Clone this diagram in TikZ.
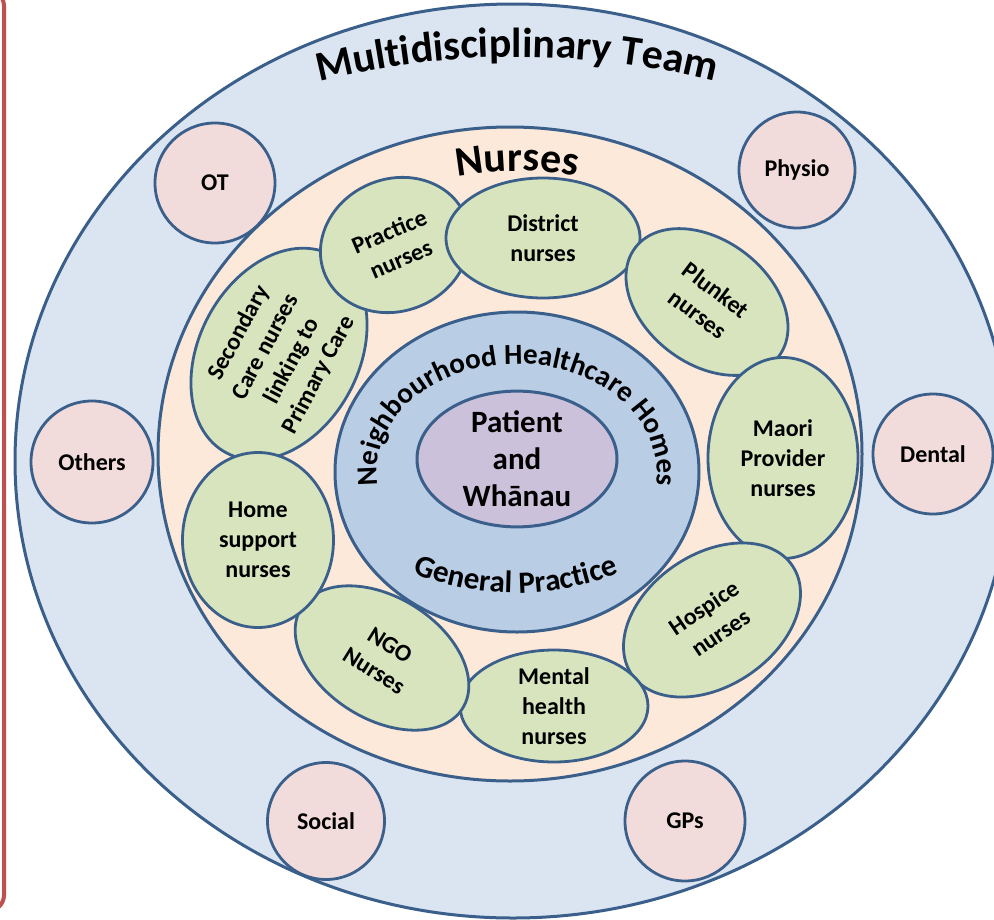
\documentclass[tikz,border=0pt]{standalone}
\usepackage{fontspec}
\setmainfont{Carlito}
\usetikzlibrary{shapes.geometric,decorations.text}
\definecolor{edge}{HTML}{3A5F8B}
\definecolor{mdtfill}{HTML}{DBE5F1}
\definecolor{nursefill}{HTML}{FDE9D9}
\definecolor{nhhfill}{HTML}{B9CDE5}
\definecolor{patfill}{HTML}{CCC1DA}
\definecolor{greenfill}{HTML}{D7E4BD}
\definecolor{pinkfill}{HTML}{F2DCDB}
\definecolor{framered}{HTML}{C0504D}
\begin{document}
\begin{tikzpicture}[x=1pt,y=1pt,
  ring/.style={ellipse, draw=edge, line width=3pt, inner sep=0pt},
  nurse/.style={ellipse, draw=edge, line width=2.8pt, fill=greenfill, inner sep=0pt, align=center, font=\fontsize{24}{30}\selectfont\bfseries},
  disc/.style={circle, draw=edge, line width=2.8pt, fill=pinkfill, inner sep=0pt, font=\fontsize{24}{30}\selectfont\bfseries}
]
\useasboundingbox (0,0) rectangle (994,-919);
\clip (0,0) rectangle (994,-919);
\fill[white] (0,0) rectangle (994,-919);
% left frame
\draw[framered, line width=4pt, rounded corners=16pt] (-40,10) rectangle (4,-911);
% outer team
\node[ring, fill=mdtfill, minimum width=996pt, minimum height=914pt] (mdt) at (513,-461) {};
% disciplines
\node[disc, minimum size=120pt] (ot) at (215,-183) {OT};
\node[disc, minimum size=116pt] (physio) at (797,-170) {Physio};
\node[disc, minimum size=122pt] (others) at (92,-462) {Others};
\node[disc, minimum size=120pt] (dental) at (933,-454) {Dental};
\node[disc, minimum size=117pt] (social) at (326,-821) {Social};
\node[disc, minimum size=120pt] (gps) at (685,-821) {GPs};
% nurses ring
\node[ring, fill=nursefill, minimum width=704pt, minimum height=654pt] (nursering) at (510,-454) {};
% nurse groups
\node[nurse, rotate=62, minimum width=224pt, minimum height=160pt] (secondary) at (279,-354) {Secondary\\Care nurses\\linking to\\Primary Care};
\node[nurse, rotate=23, minimum width=152pt, minimum height=132pt] (practice) at (395,-245) {Practice\\nurses};
\node[nurse, minimum width=194pt, minimum height=120pt] (district) at (543,-238) {District\\nurses};
\node[nurse, rotate=-37, minimum width=180pt, minimum height=124pt] (plunket) at (707,-302) {Plunket\\nurses};
\node[nurse, minimum width=150pt, minimum height=201pt] (maori) at (783,-458) {Maori\\Provider\\nurses};
\node[nurse, rotate=34, minimum width=194pt, minimum height=132pt] (hospice) at (712,-620) {Hospice\\nurses};
\node[nurse, minimum width=188pt, minimum height=112pt] (mental) at (554,-706) {Mental\\health\\nurses};
\node[nurse, rotate=-32, minimum width=190pt, minimum height=122pt] (ngo) at (382,-658) {NGO\\Nurses};
\node[nurse, minimum width=151pt, minimum height=175pt] (home) at (258,-540) {Home\\support\\nurses};
% neighbourhood healthcare homes
\node[ring, fill=nhhfill, minimum width=364pt, minimum height=320pt] (nhh) at (517,-472) {};
\node[ring, fill=patfill, minimum width=200pt, minimum height=130pt, align=center, font=\fontsize{31}{37}\selectfont\bfseries] (patient) at (517,-459) {Patient\\and\\Whānau};
% curved titles
\path[decorate, decoration={text along path, text align=center, text={|\fontsize{42}{42}\selectfont\bfseries|Multidisciplinary Team}}] (517,-870) ++(110:813) arc[start angle=110, end angle=70, radius=813];
\path[decorate, decoration={text along path, text align=center, text={|\fontsize{42}{42}\selectfont\bfseries|Nurses}}] (517,-501) ++(120:330) arc[start angle=120, end angle=60, radius=330];
\path[decorate, decoration={text along path, text align=center, text={|\fontsize{29}{29}\selectfont\bfseries|Neighbourhood Healthcare Homes}}] (517,-472) ++(200:140 and 108) arc[start angle=200, end angle=-20, x radius=140, y radius=108];
\path[decorate, decoration={text along path, text align=center, text={|\fontsize{31}{31}\selectfont\bfseries|General Practice}}] (516,-317) ++(235:276) arc[start angle=235, end angle=305, radius=276];
\end{tikzpicture}
\end{document}
